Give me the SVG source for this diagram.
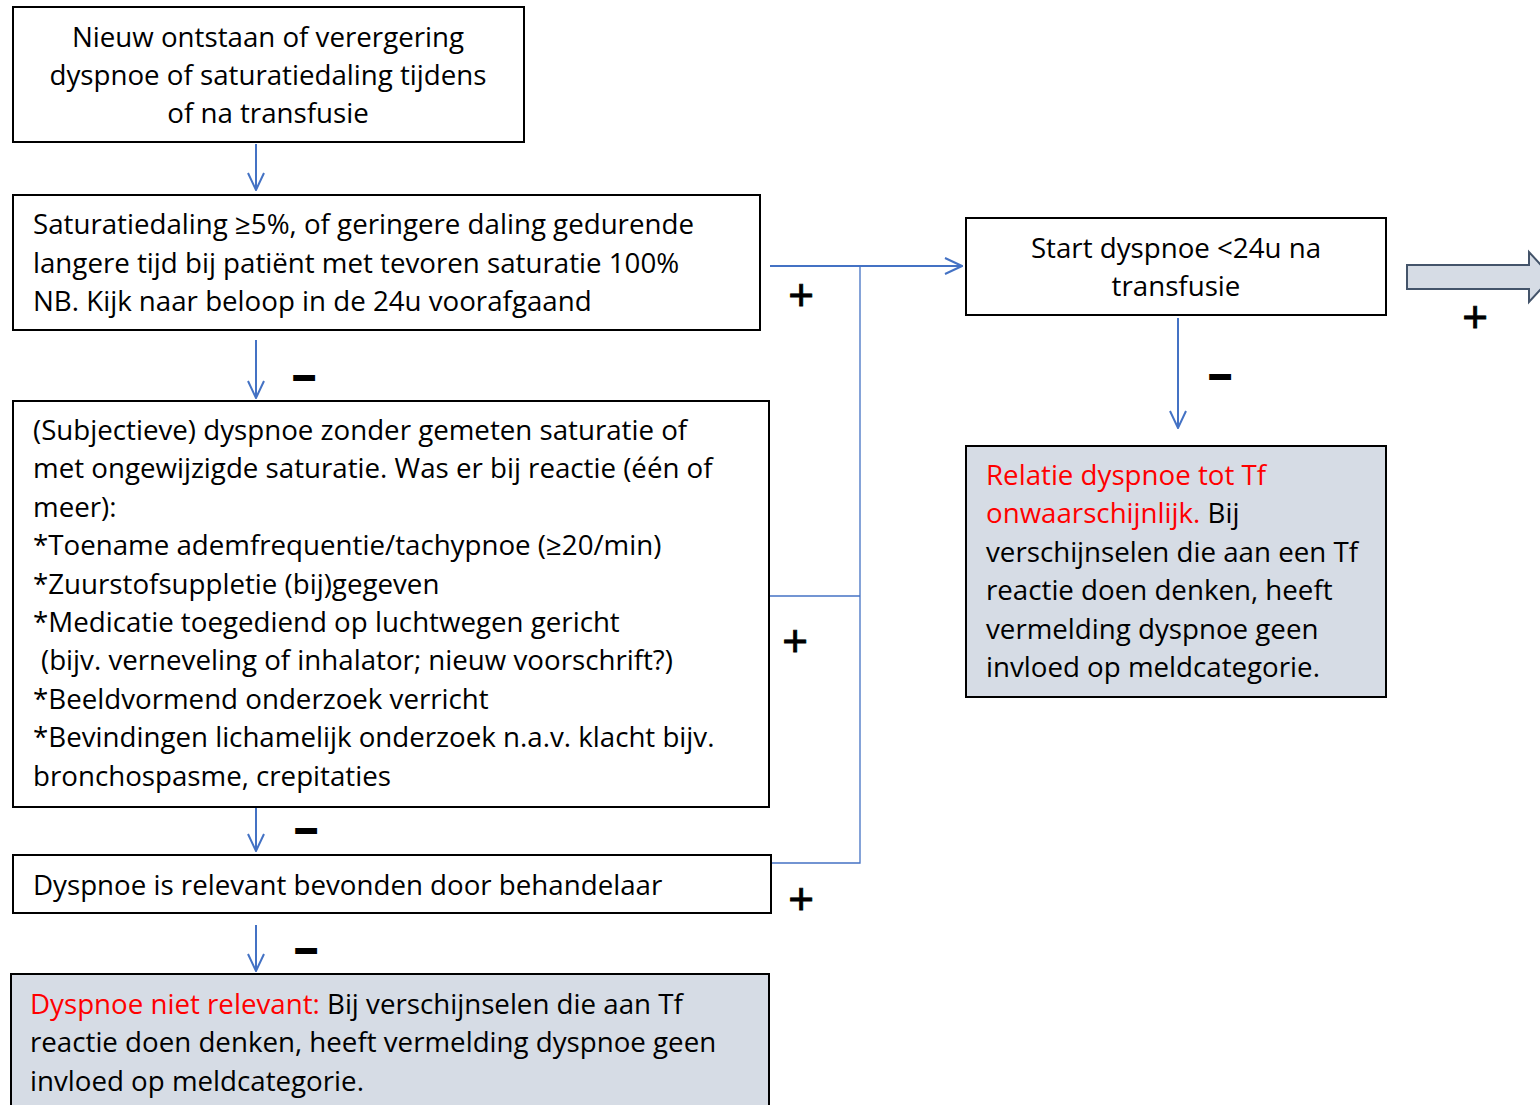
<svg xmlns="http://www.w3.org/2000/svg" width="1540" height="1105" viewBox="0 0 1540 1105">
<defs>
<style>
.box{fill:#fff;stroke:#000;stroke-width:2}
.gbox{fill:#d6dce5;stroke:#000;stroke-width:2}
text{font-family:"Open Sans","Liberation Sans",sans-serif;font-size:27.7px;fill:#000}
.c{text-anchor:middle}
.red{fill:#ff0000}
.conn{fill:none;stroke:#4472c4;stroke-width:2}
.thin{fill:none;stroke:#4472c4;stroke-width:1.3}
.sign{font-family:"Liberation Sans",sans-serif;font-size:44px;text-anchor:middle;stroke:#000;stroke-width:0.8}
.minus{font-family:"Liberation Sans",sans-serif;font-size:40px;font-weight:bold;text-anchor:middle;stroke:#000;stroke-width:2}
</style>
<marker id="ah" viewBox="0 0 20 20" refX="19" refY="10" markerWidth="20" markerHeight="20" markerUnits="userSpaceOnUse" orient="auto">
<path d="M2,2 L19,10 L2,18" fill="none" stroke="#4472c4" stroke-width="2"/>
</marker>
</defs>
<rect width="1540" height="1105" fill="#fff"/>
<g id="connectors">
<line class="conn" x1="256" y1="144" x2="256" y2="190" marker-end="url(#ah)"/>
<line class="conn" x1="256" y1="340" x2="256" y2="398" marker-end="url(#ah)"/>
<line class="conn" x1="256" y1="808" x2="256" y2="851" marker-end="url(#ah)"/>
<line class="conn" x1="256" y1="925" x2="256" y2="971" marker-end="url(#ah)"/>
<line class="conn" x1="770" y1="266" x2="962" y2="266" marker-end="url(#ah)"/>
<polyline class="thin" points="860,266 860,863 772,863"/>
<line class="thin" x1="770" y1="596" x2="860" y2="596"/>
<line class="conn" x1="1178" y1="318" x2="1178" y2="428" marker-end="url(#ah)"/>
<path d="M1407,265 L1529,265 L1529,252 L1552,277 L1529,302 L1529,289 L1407,289 Z" fill="#d6dce5" stroke="#44546a" stroke-width="2"/>
<text class="sign" x="801" y="310">+</text>
<text class="sign" x="795" y="656">+</text>
<text class="sign" x="801" y="914">+</text>
<text class="sign" x="1475" y="332">+</text>
<text class="minus" x="304" y="389">–</text>
<text class="minus" x="306" y="842">–</text>
<text class="minus" x="306" y="962">–</text>
<text class="minus" x="1220" y="388">–</text>
</g>
<g id="node1">
<rect class="box" x="13" y="7" width="511" height="135"/>
<text class="c" x="268" y="47">Nieuw ontstaan of verergering</text>
<text class="c" x="268" y="85">dyspnoe of saturatiedaling tijdens</text>
<text class="c" x="268" y="123">of na transfusie</text>
</g>
<g id="node2">
<rect class="box" x="13" y="195" width="747" height="135"/>
<text x="33" y="234">Saturatiedaling ≥5%, of geringere daling gedurende</text>
<text x="33" y="273">langere tijd bij patiënt met tevoren saturatie 100%</text>
<text x="33" y="311">NB. Kijk naar beloop in de 24u voorafgaand</text>
</g>
<g id="node3">
<rect class="box" x="13" y="401" width="756" height="406"/>
<text x="33" y="440">(Subjectieve) dyspnoe zonder gemeten saturatie of</text>
<text x="33" y="478">met ongewijzigde saturatie. Was er bij reactie (één of</text>
<text x="33" y="517">meer):</text>
<text x="33" y="555">*Toename ademfrequentie/tachypnoe (≥20/min)</text>
<text x="33" y="594">*Zuurstofsuppletie (bij)gegeven</text>
<text x="33" y="632">*Medicatie toegediend op luchtwegen gericht</text>
<text x="41" y="670">(bijv. verneveling of inhalator; nieuw voorschrift?)</text>
<text x="33" y="709">*Beeldvormend onderzoek verricht</text>
<text x="33" y="747">*Bevindingen lichamelijk onderzoek n.a.v. klacht bijv.</text>
<text x="33" y="786">bronchospasme, crepitaties</text>
</g>
<g id="node4">
<rect class="box" x="13" y="855" width="758" height="58"/>
<text x="33" y="895">Dyspnoe is relevant bevonden door behandelaar</text>
</g>
<g id="node5">
<rect class="gbox" x="11" y="974" width="758" height="140"/>
<text x="30" y="1014"><tspan class="red">Dyspnoe niet relevant:</tspan> Bij verschijnselen die aan Tf</text>
<text x="30" y="1052">reactie doen denken, heeft vermelding dyspnoe geen</text>
<text x="30" y="1091">invloed op meldcategorie.</text>
</g>
<g id="node6">
<rect class="box" x="966" y="218" width="420" height="97"/>
<text class="c" x="1176" y="258">Start dyspnoe &lt;24u na</text>
<text class="c" x="1176" y="296">transfusie</text>
</g>
<g id="node7">
<rect class="gbox" x="966" y="446" width="420" height="251"/>
<text x="986" y="485" class="red">Relatie dyspnoe tot Tf</text>
<text x="986" y="523"><tspan class="red">onwaarschijnlijk.</tspan> Bij</text>
<text x="986" y="562">verschijnselen die aan een Tf</text>
<text x="986" y="600">reactie doen denken, heeft</text>
<text x="986" y="639">vermelding dyspnoe geen</text>
<text x="986" y="677">invloed op meldcategorie.</text>
</g>
</svg>
